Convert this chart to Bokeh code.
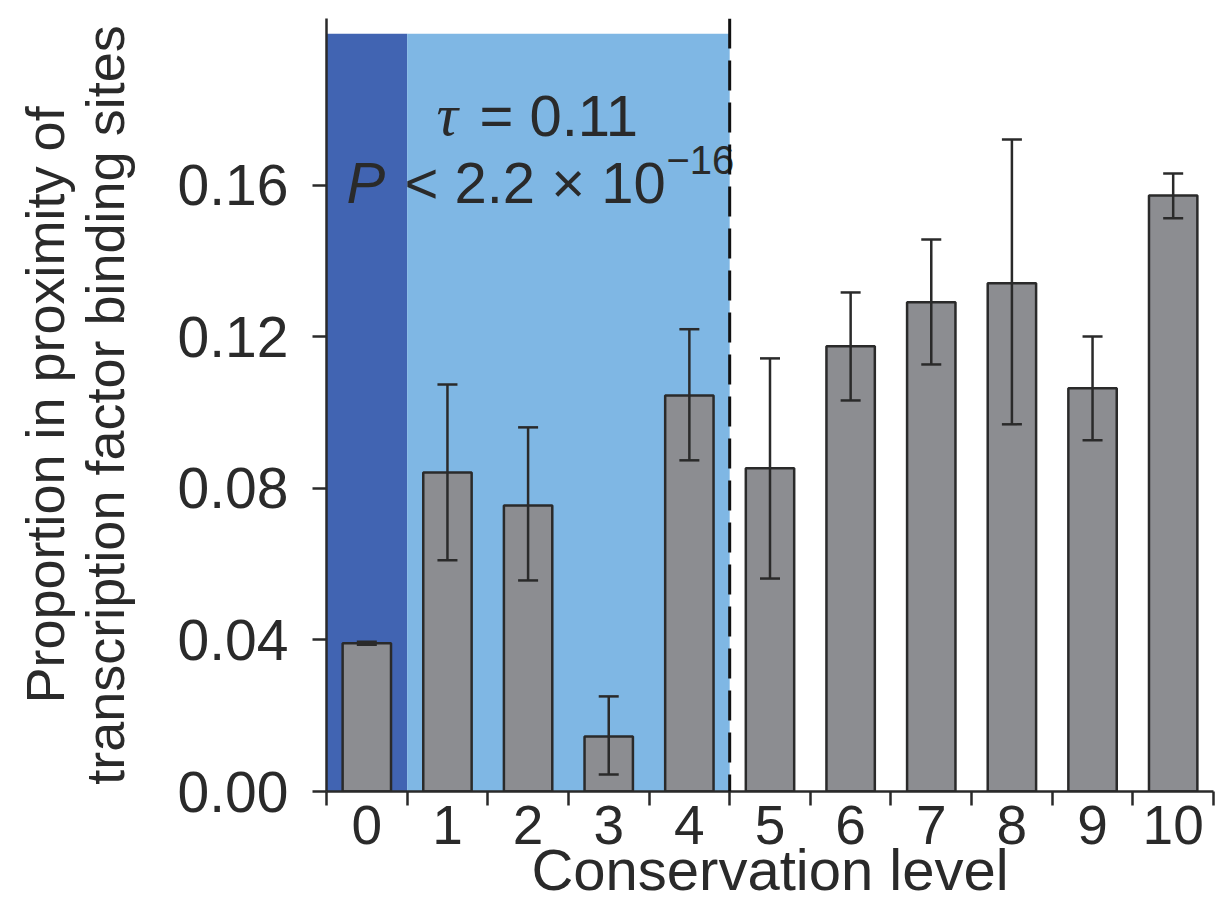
from bokeh.plotting import figure
from bokeh.models import (ColumnDataSource, Whisker, TeeHead, FixedTicker, Range1d,
                          BoxAnnotation, Span, Label, CustomJSTickFormatter)
from bokeh.embed import file_html
from bokeh.resources import INLINE

# ---- data ----
levels = [0, 1, 2, 3, 4, 5, 6, 7, 8, 9, 10]
tick_labels = ["0", "1", "2", "3", "4", "5", "6", "7", "8", "9", "10"]
proportion = [0.0391, 0.0842, 0.0755, 0.0145, 0.1045, 0.0853, 0.1175, 0.1291, 0.1341, 0.1064, 0.1573]
err_upper = [0.0395, 0.1074, 0.0961, 0.0251, 0.1220, 0.1143, 0.1317, 0.1457, 0.1721, 0.1201, 0.1631]
err_lower = [0.0387, 0.0610, 0.0557, 0.0045, 0.0874, 0.0562, 0.1032, 0.1127, 0.0969, 0.0927, 0.1513]
y_ticks = [0.0, 0.04, 0.08, 0.12, 0.16]
dark_band = (-0.5, 0.5)
light_band = (0.5, 4.5)
band_top = 0.20
x_title = "Conservation level"
y_title = "Proportion in proximity of\ntranscription factor binding sites"
tau_text = "= 0.11"
p_text = "< 2.2 × 10"
p_exp = "−16"

FONT = "Liberation Sans"
INK = "#2a2a2a"

src = ColumnDataSource(dict(x=levels, top=proportion, upper=err_upper, lower=err_lower))

p = figure(width=1216, height=905, output_backend="svg", toolbar_location=None,
           x_range=Range1d(-0.5, 10.5), y_range=Range1d(0, 0.204),
           min_border_left=326, min_border_right=3, min_border_top=18, min_border_bottom=114,
           background_fill_color="white", border_fill_color="white")
p.outline_line_color = None
p.grid.visible = False

# shaded bands
p.add_layout(BoxAnnotation(left=dark_band[0], right=dark_band[1], bottom=0, top=band_top,
                           fill_color="#4164B2", fill_alpha=1.0, line_color=None, level="underlay"))
p.add_layout(BoxAnnotation(left=light_band[0], right=light_band[1], bottom=0, top=band_top,
                           fill_color="#7FB7E4", fill_alpha=1.0, line_color=None, level="underlay"))

# bars
p.vbar(x="x", top="top", bottom=0, width=0.6, source=src,
       fill_color="#8C8D91", line_color=INK, line_width=2.5)

# error bars (drawn above the bars)
w = Whisker(base="x", upper="upper", lower="lower", source=src, level="overlay",
            line_color=INK, line_width=2.5,
            upper_head=TeeHead(size=20, line_color=INK, line_width=2.5),
            lower_head=TeeHead(size=20, line_color=INK, line_width=2.5))
p.add_layout(w)

# dashed divider
p.add_layout(Span(location=light_band[1], dimension="height", line_color="#111111",
                  line_width=3, line_dash="30 12", level="overlay"))

# axes
xa = p.xaxis[0]
xa.ticker = FixedTicker(ticks=levels, minor_ticks=[l - 0.5 for l in levels] + [levels[-1] + 0.5])
xa.formatter = CustomJSTickFormatter(args=dict(labs=tick_labels), code="return labs[Math.round(tick)];")
xa.major_tick_out = 0
xa.major_tick_in = 0
xa.minor_tick_out = 14
xa.minor_tick_in = 0
xa.minor_tick_line_width = 2.5
xa.minor_tick_line_color = INK
xa.axis_line_width = 2.5
xa.axis_line_color = INK
xa.major_label_text_font = FONT
xa.major_label_text_font_size = "55px"
xa.major_label_text_color = INK
xa.major_label_standoff = 0
xa.axis_label = x_title
xa.axis_label_text_font = FONT
xa.axis_label_text_font_size = "58px"
xa.axis_label_text_font_style = "normal"
xa.axis_label_text_color = INK
xa.axis_label_standoff = -10

ya = p.yaxis[0]
ya.ticker = FixedTicker(ticks=y_ticks, minor_ticks=[])
ya.formatter = CustomJSTickFormatter(code="return tick.toFixed(2);")
ya.major_tick_out = 14
ya.major_tick_in = 0
ya.major_tick_line_width = 2.5
ya.major_tick_line_color = INK
ya.axis_line_width = 2.5
ya.axis_line_color = INK
ya.major_label_text_font = FONT
ya.major_label_text_font_size = "57px"
ya.major_label_text_color = INK
ya.major_label_standoff = 24
ya.axis_label = y_title
ya.axis_label_text_font = FONT
ya.axis_label_text_font_size = "54px"
ya.axis_label_text_font_style = "normal"
ya.axis_label_text_color = INK
ya.axis_label_text_line_height = 1.0
ya.axis_label_standoff = 40

# annotation text (x anchored at frame left, offsets in px)
x0 = -0.5
def lab(text, dx, y, size, style="normal", font=FONT):
    p.add_layout(Label(x=x0, y=y, x_offset=dx, text=text, text_font=font,
                       text_font_size=size, text_font_style=style, text_color=INK,
                       text_align="left", text_baseline="alphabetic"))

lab("τ", 110, 0.1785, "60px", "italic", "Liberation Serif")
lab(tau_text, 153, 0.1785, "58px")
lab("P", 20, 0.1608, "58px", "italic")
lab(p_text, 78, 0.1608, "58px")
lab(p_exp, 340, 0.1666, "40px")

open("out.html", "w").write(file_html(p, INLINE))
